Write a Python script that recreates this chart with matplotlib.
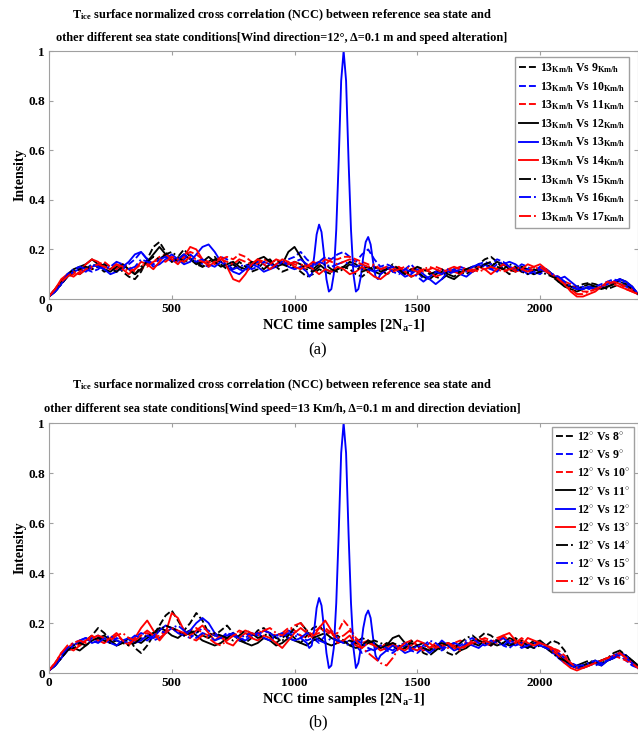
import matplotlib
matplotlib.use("Agg")
import matplotlib.pyplot as plt

plt.rcParams['font.family'] = ['Liberation Serif', 'DejaVu Serif']
plt.rcParams['font.weight'] = 'bold'
plt.rcParams['axes.labelweight'] = 'bold'
plt.rcParams['mathtext.fontset'] = 'custom'
plt.rcParams['mathtext.rm'] = 'Liberation Serif:bold'
plt.rcParams['mathtext.bf'] = 'Liberation Serif:bold'
plt.rcParams['mathtext.it'] = 'Liberation Serif:bold:italic'

# NCC sample index (every 25 samples, last one is 2N_a-1 = 2399)
samples = list(range(0, 2400, 25)) + [2399]
# the same-state curve is read finer around its main peak
samples_self = (list(range(0, 1050, 25)) + list(range(1050, 1360, 10))
                + list(range(1375, 2400, 25)) + [2399])

# ---- panel (a): wind direction 12 deg, speed changed (13 km/h vs ...)
speeds_a = [9, 10, 11, 12, 13, 14, 15, 16, 17]

a_9 = [0.01, 0.04, 0.07, 0.10, 0.11, 0.10, 0.12, 0.14,
       0.13, 0.11, 0.12, 0.14, 0.11, 0.09, 0.08, 0.11,
       0.16, 0.21, 0.23, 0.19, 0.15, 0.17, 0.20, 0.17,
       0.14, 0.13, 0.15, 0.17, 0.14, 0.12, 0.12, 0.15,
       0.13, 0.11, 0.12, 0.15, 0.16, 0.13, 0.11, 0.12,
       0.13, 0.11, 0.09, 0.10, 0.12, 0.11, 0.10, 0.12,
       0.13, 0.12, 0.10, 0.09, 0.11, 0.13, 0.12, 0.10,
       0.11, 0.13, 0.11, 0.09, 0.10, 0.12, 0.11, 0.09,
       0.08, 0.10, 0.12, 0.11, 0.10, 0.12, 0.14, 0.16,
       0.17, 0.15, 0.12, 0.10, 0.12, 0.13, 0.11, 0.10,
       0.12, 0.11, 0.09, 0.07, 0.06, 0.05, 0.05, 0.06,
       0.065, 0.06, 0.05, 0.04, 0.05, 0.06, 0.05, 0.04,
       0.02]
a_10 = [0.01, 0.03, 0.06, 0.09, 0.11, 0.13, 0.12, 0.11,
        0.12, 0.14, 0.13, 0.11, 0.12, 0.14, 0.16, 0.19,
        0.16, 0.14, 0.16, 0.18, 0.17, 0.15, 0.16, 0.18,
        0.16, 0.14, 0.13, 0.15, 0.17, 0.16, 0.14, 0.12,
        0.11, 0.13, 0.15, 0.14, 0.12, 0.13, 0.15, 0.16,
        0.17, 0.19, 0.16, 0.14, 0.15, 0.17, 0.16, 0.18,
        0.19, 0.17, 0.15, 0.18, 0.20, 0.16, 0.13, 0.14,
        0.13, 0.11, 0.12, 0.14, 0.11, 0.08, 0.09, 0.11,
        0.12, 0.10, 0.11, 0.13, 0.12, 0.13, 0.14, 0.15,
        0.14, 0.16, 0.15, 0.13, 0.12, 0.14, 0.13, 0.11,
        0.10, 0.12, 0.10, 0.08, 0.07, 0.05, 0.04, 0.05,
        0.04, 0.05, 0.06, 0.07, 0.08, 0.07, 0.05, 0.04,
        0.02]
a_11 = [0.01, 0.04, 0.07, 0.09, 0.10, 0.12, 0.13, 0.12,
        0.14, 0.15, 0.13, 0.12, 0.14, 0.13, 0.11, 0.12,
        0.14, 0.15, 0.17, 0.18, 0.16, 0.15, 0.17, 0.19,
        0.18, 0.16, 0.15, 0.14, 0.16, 0.17, 0.16, 0.18,
        0.17, 0.15, 0.14, 0.16, 0.15, 0.13, 0.14, 0.15,
        0.14, 0.13, 0.12, 0.14, 0.15, 0.14, 0.16, 0.16,
        0.17, 0.17, 0.16, 0.15, 0.14, 0.13, 0.12, 0.12,
        0.13, 0.12, 0.11, 0.12, 0.13, 0.11, 0.12, 0.13,
        0.12, 0.11, 0.12, 0.13, 0.12, 0.11, 0.12, 0.12,
        0.13, 0.12, 0.12, 0.11, 0.12, 0.11, 0.12, 0.13,
        0.12, 0.11, 0.10, 0.09, 0.07, 0.06, 0.04, 0.03,
        0.03, 0.04, 0.05, 0.06, 0.07, 0.06, 0.05, 0.04,
        0.02]
a_12 = [0.01, 0.04, 0.07, 0.10, 0.12, 0.13, 0.14, 0.16,
        0.14, 0.12, 0.11, 0.13, 0.14, 0.12, 0.10, 0.12,
        0.15, 0.18, 0.21, 0.18, 0.15, 0.16, 0.18, 0.16,
        0.14, 0.15, 0.17, 0.15, 0.13, 0.14, 0.15, 0.13,
        0.12, 0.13, 0.16, 0.17, 0.15, 0.13, 0.14, 0.19,
        0.21, 0.17, 0.13, 0.12, 0.14, 0.12, 0.11, 0.12,
        0.13, 0.15, 0.14, 0.12, 0.13, 0.11, 0.10, 0.12,
        0.13, 0.11, 0.10, 0.12, 0.11, 0.09, 0.08, 0.10,
        0.11, 0.09, 0.08, 0.10, 0.12, 0.11, 0.13, 0.14,
        0.13, 0.15, 0.14, 0.12, 0.11, 0.13, 0.12, 0.10,
        0.11, 0.12, 0.10, 0.07, 0.05, 0.04, 0.03, 0.04,
        0.05, 0.05, 0.04, 0.05, 0.06, 0.08, 0.07, 0.05,
        0.02]
a_13 = [0.01, 0.03, 0.06, 0.09, 0.11, 0.12, 0.11, 0.13,
        0.14, 0.12, 0.10, 0.11, 0.13, 0.15, 0.18, 0.19,
        0.16, 0.13, 0.14, 0.16, 0.18, 0.16, 0.14, 0.15,
        0.18, 0.21, 0.22, 0.19, 0.15, 0.13, 0.11, 0.10,
        0.12, 0.14, 0.13, 0.11, 0.12, 0.14, 0.15, 0.13,
        0.12, 0.13,
        # 1050 .. 1350 every 10 samples
        0.11, 0.09, 0.10, 0.17, 0.26, 0.30, 0.27, 0.18, 0.08, 0.03, 0.04,
        0.10, 0.28, 0.56, 0.88, 1.00, 0.88, 0.56, 0.28, 0.10, 0.03,
        0.04, 0.09, 0.17, 0.23, 0.25, 0.22, 0.15, 0.09, 0.08, 0.10,
        # 1375 .. 2399
        0.12, 0.13, 0.11, 0.09, 0.10, 0.12, 0.10, 0.08,
        0.06, 0.08, 0.11, 0.12, 0.10, 0.09, 0.11, 0.13,
        0.14, 0.12, 0.11, 0.14, 0.15, 0.14, 0.12, 0.10,
        0.11, 0.13, 0.12, 0.10, 0.08, 0.09, 0.07, 0.05,
        0.04, 0.05, 0.04, 0.05, 0.06, 0.07, 0.08, 0.07,
        0.05, 0.02]
a_14 = [0.01, 0.04, 0.08, 0.10, 0.09, 0.11, 0.14, 0.16,
        0.15, 0.13, 0.12, 0.14, 0.12, 0.10, 0.12, 0.15,
        0.14, 0.12, 0.15, 0.18, 0.16, 0.14, 0.17, 0.21,
        0.20, 0.16, 0.13, 0.15, 0.17, 0.13, 0.08, 0.07,
        0.10, 0.14, 0.16, 0.14, 0.12, 0.14, 0.16, 0.15,
        0.13, 0.12, 0.14, 0.12, 0.10, 0.12, 0.11, 0.13,
        0.12, 0.10, 0.11, 0.13, 0.11, 0.09, 0.08, 0.10,
        0.12, 0.13, 0.11, 0.09, 0.10, 0.12, 0.11, 0.09,
        0.10, 0.12, 0.11, 0.10, 0.12, 0.11, 0.13, 0.12,
        0.10, 0.12, 0.14, 0.13, 0.11, 0.12, 0.14, 0.13,
        0.14, 0.12, 0.09, 0.08, 0.06, 0.03, 0.01, 0.01,
        0.02, 0.03, 0.05, 0.07, 0.06, 0.05, 0.04, 0.03,
        0.02]
a_15 = [0.01, 0.03, 0.06, 0.09, 0.11, 0.12, 0.13, 0.12,
        0.13, 0.14, 0.12, 0.11, 0.13, 0.12, 0.10, 0.13,
        0.15, 0.17, 0.16, 0.18, 0.19, 0.17, 0.15, 0.16,
        0.15, 0.13, 0.14, 0.16, 0.15, 0.13, 0.14, 0.12,
        0.13, 0.15, 0.14, 0.12, 0.14, 0.16, 0.14, 0.13,
        0.15, 0.14, 0.12, 0.11, 0.13, 0.14, 0.12, 0.11,
        0.12, 0.14, 0.13, 0.11, 0.12, 0.13, 0.11, 0.12,
        0.14, 0.12, 0.10, 0.11, 0.13, 0.12, 0.10, 0.11,
        0.12, 0.10, 0.09, 0.11, 0.12, 0.13, 0.12, 0.14,
        0.15, 0.13, 0.12, 0.14, 0.13, 0.11, 0.10, 0.12,
        0.11, 0.10, 0.09, 0.08, 0.06, 0.05, 0.04, 0.05,
        0.06, 0.05, 0.04, 0.05, 0.06, 0.07, 0.06, 0.04,
        0.02]
a_16 = [0.01, 0.03, 0.06, 0.10, 0.12, 0.13, 0.12, 0.14,
        0.13, 0.12, 0.13, 0.15, 0.14, 0.12, 0.13, 0.16,
        0.15, 0.14, 0.16, 0.17, 0.15, 0.16, 0.18, 0.16,
        0.15, 0.16, 0.14, 0.13, 0.15, 0.14, 0.12, 0.13,
        0.14, 0.12, 0.13, 0.15, 0.14, 0.13, 0.15, 0.14,
        0.15, 0.16, 0.14, 0.13, 0.15, 0.14, 0.13, 0.14,
        0.15, 0.14, 0.13, 0.14, 0.12, 0.11, 0.12, 0.13,
        0.11, 0.10, 0.12, 0.11, 0.09, 0.07, 0.09, 0.11,
        0.10, 0.12, 0.11, 0.12, 0.11, 0.13, 0.14, 0.13,
        0.12, 0.14, 0.15, 0.13, 0.12, 0.11, 0.12, 0.10,
        0.12, 0.11, 0.10, 0.09, 0.07, 0.05, 0.04, 0.04,
        0.05, 0.04, 0.05, 0.06, 0.07, 0.08, 0.06, 0.05,
        0.02]
a_17 = [0.01, 0.04, 0.07, 0.09, 0.11, 0.10, 0.12, 0.13,
        0.14, 0.13, 0.12, 0.14, 0.13, 0.11, 0.12, 0.14,
        0.13, 0.15, 0.16, 0.15, 0.17, 0.16, 0.15, 0.17,
        0.16, 0.15, 0.14, 0.15, 0.16, 0.15, 0.14, 0.16,
        0.15, 0.14, 0.16, 0.15, 0.14, 0.16, 0.15, 0.14,
        0.15, 0.14, 0.13, 0.15, 0.14, 0.16, 0.15, 0.14,
        0.15, 0.16, 0.15, 0.14, 0.13, 0.14, 0.12, 0.13,
        0.11, 0.12, 0.13, 0.12, 0.11, 0.12, 0.13, 0.12,
        0.11, 0.12, 0.13, 0.12, 0.11, 0.12, 0.11, 0.12,
        0.13, 0.12, 0.11, 0.12, 0.13, 0.12, 0.11, 0.12,
        0.13, 0.11, 0.10, 0.08, 0.06, 0.04, 0.02, 0.02,
        0.03, 0.04, 0.05, 0.06, 0.07, 0.06, 0.04, 0.03,
        0.02]

# ---- panel (b): wind speed 13 km/h, direction changed (12 deg vs ...)
angles_b = [8, 9, 10, 11, 12, 13, 14, 15, 16]

b_8 = [0.01, 0.04, 0.07, 0.09, 0.10, 0.11, 0.13, 0.15,
       0.18, 0.16, 0.13, 0.11, 0.12, 0.14, 0.10, 0.08,
       0.11, 0.15, 0.19, 0.23, 0.25, 0.21, 0.17, 0.20,
       0.24, 0.21, 0.16, 0.15, 0.17, 0.19, 0.16, 0.13,
       0.12, 0.14, 0.17, 0.18, 0.15, 0.12, 0.14, 0.16,
       0.14, 0.12, 0.15, 0.18, 0.19, 0.16, 0.14, 0.15,
       0.13, 0.11, 0.12, 0.14, 0.13, 0.11, 0.10, 0.12,
       0.11, 0.09, 0.10, 0.13, 0.11, 0.08, 0.07, 0.09,
       0.10, 0.08, 0.07, 0.09, 0.12, 0.13, 0.14, 0.16,
       0.15, 0.13, 0.11, 0.12, 0.14, 0.12, 0.11, 0.13,
       0.12, 0.11, 0.13, 0.12, 0.09, 0.04, 0.02, 0.03,
       0.04, 0.05, 0.04, 0.05, 0.06, 0.08, 0.07, 0.05,
       0.03]
b_9 = [0.01, 0.03, 0.06, 0.09, 0.11, 0.12, 0.13, 0.14,
       0.15, 0.13, 0.12, 0.14, 0.13, 0.12, 0.14, 0.16,
       0.15, 0.13, 0.14, 0.16, 0.18, 0.17, 0.15, 0.14,
       0.16, 0.18, 0.17, 0.15, 0.14, 0.16, 0.15, 0.13,
       0.14, 0.16, 0.15, 0.17, 0.16, 0.14, 0.15, 0.17,
       0.16, 0.15, 0.13, 0.14, 0.12, 0.15, 0.17, 0.14,
       0.12, 0.13, 0.11, 0.08, 0.09, 0.10, 0.11, 0.09,
       0.08, 0.10, 0.11, 0.09, 0.08, 0.10, 0.12, 0.10,
       0.09, 0.11, 0.12, 0.10, 0.11, 0.13, 0.12, 0.11,
       0.12, 0.13, 0.11, 0.10, 0.12, 0.11, 0.10, 0.12,
       0.11, 0.10, 0.08, 0.07, 0.05, 0.03, 0.02, 0.03,
       0.04, 0.03, 0.04, 0.05, 0.06, 0.07, 0.05, 0.03,
       0.02]
b_10 = [0.01, 0.04, 0.07, 0.10, 0.12, 0.11, 0.13, 0.14,
        0.13, 0.12, 0.14, 0.15, 0.13, 0.12, 0.13, 0.15,
        0.16, 0.14, 0.15, 0.17, 0.18, 0.16, 0.15, 0.17,
        0.18, 0.16, 0.15, 0.16, 0.14, 0.13, 0.15, 0.17,
        0.16, 0.15, 0.16, 0.17, 0.16, 0.15, 0.16, 0.18,
        0.17, 0.15, 0.14, 0.16, 0.18, 0.17, 0.15, 0.16,
        0.21, 0.18, 0.14, 0.12, 0.13, 0.11, 0.10, 0.12,
        0.11, 0.10, 0.12, 0.13, 0.11, 0.09, 0.10, 0.12,
        0.11, 0.10, 0.12, 0.13, 0.12, 0.11, 0.13, 0.14,
        0.13, 0.12, 0.14, 0.13, 0.12, 0.13, 0.12, 0.11,
        0.12, 0.11, 0.10, 0.09, 0.07, 0.04, 0.02, 0.02,
        0.03, 0.04, 0.05, 0.06, 0.07, 0.06, 0.05, 0.04,
        0.02]
b_11 = [0.01, 0.03, 0.06, 0.09, 0.10, 0.09, 0.11, 0.13,
        0.14, 0.15, 0.13, 0.11, 0.12, 0.14, 0.13, 0.12,
        0.14, 0.16, 0.18, 0.17, 0.15, 0.14, 0.16, 0.17,
        0.15, 0.13, 0.12, 0.11, 0.12, 0.14, 0.16, 0.14,
        0.12, 0.11, 0.12, 0.14, 0.13, 0.11, 0.12, 0.14,
        0.13, 0.12, 0.11, 0.13, 0.14, 0.12, 0.11, 0.12,
        0.13, 0.11, 0.10, 0.11, 0.13, 0.12, 0.10, 0.11,
        0.14, 0.15, 0.12, 0.10, 0.11, 0.12, 0.10, 0.09,
        0.11, 0.12, 0.11, 0.09, 0.10, 0.12, 0.11, 0.13,
        0.12, 0.11, 0.12, 0.14, 0.13, 0.11, 0.10, 0.12,
        0.13, 0.11, 0.09, 0.07, 0.05, 0.03, 0.02, 0.03,
        0.04, 0.04, 0.03, 0.05, 0.06, 0.08, 0.07, 0.05,
        0.02]
b_12 = [0.01, 0.03, 0.06, 0.09, 0.11, 0.13, 0.14, 0.12,
        0.13, 0.14, 0.12, 0.11, 0.13, 0.14, 0.12, 0.13,
        0.15, 0.14, 0.17, 0.19, 0.18, 0.16, 0.15, 0.17,
        0.20, 0.22, 0.20, 0.16, 0.14, 0.15, 0.16, 0.14,
        0.13, 0.15, 0.16, 0.14, 0.13, 0.15, 0.16, 0.14,
        0.13, 0.14,
        # 1050 .. 1350 every 10 samples
        0.12, 0.10, 0.11, 0.17, 0.26, 0.30, 0.27, 0.18, 0.08, 0.02, 0.03,
        0.10, 0.28, 0.56, 0.88, 1.00, 0.88, 0.56, 0.28, 0.10, 0.02,
        0.04, 0.10, 0.18, 0.23, 0.25, 0.22, 0.14, 0.07, 0.05, 0.07,
        # 1375 .. 2399
        0.09, 0.11, 0.10, 0.08, 0.09, 0.11, 0.10, 0.08,
        0.10, 0.13, 0.11, 0.09, 0.10, 0.12, 0.11, 0.10,
        0.12, 0.11, 0.13, 0.14, 0.12, 0.11, 0.12, 0.11,
        0.10, 0.12, 0.11, 0.09, 0.06, 0.04, 0.03, 0.02,
        0.02, 0.03, 0.04, 0.03, 0.05, 0.06, 0.08, 0.07,
        0.04, 0.02]
b_13 = [0.01, 0.04, 0.08, 0.10, 0.09, 0.11, 0.13, 0.15,
        0.13, 0.12, 0.14, 0.16, 0.13, 0.11, 0.14, 0.18,
        0.21, 0.17, 0.13, 0.16, 0.24, 0.22, 0.17, 0.15,
        0.17, 0.19, 0.16, 0.13, 0.15, 0.12, 0.11, 0.14,
        0.16, 0.14, 0.13, 0.15, 0.14, 0.12, 0.10, 0.13,
        0.16, 0.18, 0.16, 0.14, 0.18, 0.21, 0.17, 0.12,
        0.13, 0.15, 0.11, 0.10, 0.12, 0.11, 0.09, 0.10,
        0.12, 0.10, 0.09, 0.11, 0.13, 0.12, 0.10, 0.11,
        0.10, 0.12, 0.11, 0.10, 0.11, 0.12, 0.13, 0.12,
        0.11, 0.13, 0.15, 0.16, 0.13, 0.11, 0.14, 0.13,
        0.12, 0.11, 0.09, 0.07, 0.04, 0.02, 0.01, 0.02,
        0.03, 0.04, 0.05, 0.06, 0.07, 0.08, 0.06, 0.04,
        0.02]
b_14 = [0.01, 0.03, 0.06, 0.09, 0.11, 0.12, 0.11, 0.13,
        0.14, 0.13, 0.12, 0.13, 0.12, 0.11, 0.12, 0.14,
        0.15, 0.16, 0.17, 0.19, 0.18, 0.17, 0.15, 0.16,
        0.17, 0.15, 0.14, 0.16, 0.15, 0.14, 0.13, 0.15,
        0.17, 0.16, 0.14, 0.15, 0.16, 0.14, 0.13, 0.15,
        0.18, 0.20, 0.17, 0.14, 0.15, 0.16, 0.14, 0.13,
        0.12, 0.13, 0.12, 0.11, 0.12, 0.13, 0.12, 0.11,
        0.12, 0.11, 0.10, 0.12, 0.11, 0.10, 0.09, 0.11,
        0.12, 0.11, 0.10, 0.12, 0.14, 0.15, 0.13, 0.12,
        0.11, 0.13, 0.12, 0.11, 0.12, 0.13, 0.11, 0.10,
        0.11, 0.10, 0.08, 0.06, 0.05, 0.04, 0.03, 0.04,
        0.05, 0.04, 0.05, 0.06, 0.08, 0.09, 0.07, 0.05,
        0.03]
b_15 = [0.01, 0.03, 0.07, 0.10, 0.12, 0.13, 0.14, 0.13,
        0.12, 0.14, 0.15, 0.13, 0.12, 0.13, 0.15, 0.14,
        0.13, 0.15, 0.17, 0.16, 0.18, 0.19, 0.17, 0.15,
        0.14, 0.16, 0.15, 0.13, 0.14, 0.16, 0.15, 0.14,
        0.15, 0.16, 0.15, 0.17, 0.16, 0.14, 0.15, 0.16,
        0.15, 0.14, 0.16, 0.15, 0.13, 0.12, 0.14, 0.13,
        0.12, 0.11, 0.13, 0.12, 0.10, 0.09, 0.11, 0.10,
        0.09, 0.11, 0.12, 0.10, 0.09, 0.11, 0.13, 0.12,
        0.10, 0.11, 0.12, 0.11, 0.13, 0.14, 0.12, 0.11,
        0.13, 0.12, 0.11, 0.13, 0.12, 0.10, 0.11, 0.12,
        0.11, 0.10, 0.09, 0.08, 0.06, 0.04, 0.03, 0.03,
        0.04, 0.05, 0.04, 0.05, 0.07, 0.08, 0.06, 0.04,
        0.02]
b_16 = [0.01, 0.04, 0.08, 0.11, 0.12, 0.13, 0.12, 0.14,
        0.15, 0.14, 0.13, 0.15, 0.16, 0.14, 0.13, 0.15,
        0.17, 0.15, 0.14, 0.16, 0.18, 0.17, 0.16, 0.14,
        0.13, 0.15, 0.14, 0.12, 0.11, 0.13, 0.15, 0.16,
        0.17, 0.16, 0.15, 0.17, 0.18, 0.16, 0.15, 0.17,
        0.19, 0.20, 0.17, 0.15, 0.16, 0.18, 0.16, 0.14,
        0.15, 0.17, 0.13, 0.10, 0.08, 0.06, 0.04, 0.03,
        0.06, 0.10, 0.12, 0.10, 0.09, 0.11, 0.12, 0.10,
        0.11, 0.12, 0.10, 0.09, 0.11, 0.13, 0.14, 0.13,
        0.12, 0.14, 0.15, 0.13, 0.12, 0.14, 0.12, 0.11,
        0.12, 0.11, 0.10, 0.08, 0.06, 0.04, 0.02, 0.02,
        0.03, 0.04, 0.05, 0.06, 0.07, 0.08, 0.06, 0.04,
        0.02]

series_a = [a_9, a_10, a_11, a_12, a_13, a_14, a_15, a_16, a_17]
series_b = [b_8, b_9, b_10, b_11, b_12, b_13, b_14, b_15, b_16]

# matlab-like line styles, same order in both panels
styles = [('k', '--'), ('b', '--'), ('r', '--'),
          ('k', '-'), ('b', '-'), ('r', '-'),
          ('k', '-.'), ('b', '-.'), ('r', '-.')]

W, H = 638, 742
GREY = '#a0a0a0'


def draw_panel(ax, series, labels, self_index, legend_anchor, spacing):
    for i, (ys, lab) in enumerate(zip(series, labels)):
        xs = samples_self if i == self_index else samples
        c, ls = styles[i]
        ax.plot(xs, ys, color=c, linestyle=ls, linewidth=1.35, label=lab)

    ax.set_xlim(0, 2399)
    ax.set_ylim(0, 1)
    ax.set_xticks([0, 500, 1000, 1500, 2000])
    ax.set_yticks([0, 0.2, 0.4, 0.6, 0.8, 1])
    ax.set_yticklabels(['0', '0.2', '0.4', '0.6', '0.8', '1'])
    ax.tick_params(direction='in', top=True, right=True, length=3,
                   color=GREY, labelsize=9.5, pad=3)
    for s in ax.spines.values():
        s.set_color(GREY)

    ax.set_xlabel('NCC time samples [2N$_{\\mathrm{a}}$-1]', fontsize=10.4,
                  fontweight='bold', labelpad=1)
    ax.set_ylabel('Intensity', fontsize=10, fontweight='bold', labelpad=1)

    leg = ax.legend(loc='upper right', bbox_to_anchor=legend_anchor,
                    borderaxespad=0, fontsize=8.5, handlelength=1.6,
                    handletextpad=0.2, labelspacing=spacing, borderpad=0.35,
                    fancybox=False, framealpha=1)
    leg.get_frame().set_edgecolor(GREY)
    leg.get_frame().set_linewidth(1.0)


fig = plt.figure(figsize=(W / 100, H / 100), dpi=100)

ax_a = fig.add_axes([49 / W, (H - 299) / H, 589 / W, 248 / H])
labels_a = ['13$_{\\mathrm{Km/h}}$ Vs %d$_{\\mathrm{Km/h}}$' % s for s in speeds_a]
draw_panel(ax_a, series_a, labels_a, 4, (0.985, 0.976), 0.41)

ax_b = fig.add_axes([49 / W, (H - 673) / H, 589 / W, 250 / H])
labels_b = ['12$^{\\circ}$ Vs %d$^{\\circ}$' % a for a in angles_b]
draw_panel(ax_b, series_b, labels_b, 4, (0.993, 0.984), 0.52)

# titles and panel tags in figure pixels
line1 = 'T$_{\\mathrm{ice}}$ surface normalized cross correlation (NCC) between reference sea state and'
titles = [
    (15, 38, 'other different sea state conditions[Wind direction=12°, Δ=0.1 m and speed alteration]', 350, '(a)'),
    (385, 409, 'other different sea state conditions[Wind speed=13 Km/h, Δ=0.1 m and direction deviation]', 722, '(b)'),
]
for y1, y2, t2, ytag, tag in titles:
    fig.text(282 / W, 1 - y1 / H, line1, ha='center', va='center', fontsize=8.8)
    fig.text(282 / W, 1 - y2 / H, t2, ha='center', va='center', fontsize=8.8)
    fig.text(318 / W, 1 - ytag / H, tag, ha='center', va='center',
             fontsize=12, fontweight='normal')

fig.savefig('out.png', dpi=100)
